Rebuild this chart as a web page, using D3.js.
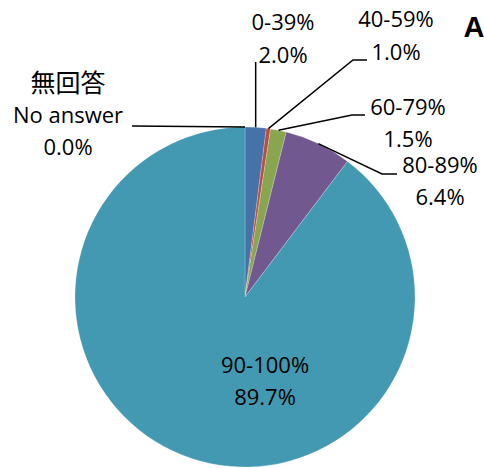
<!DOCTYPE html>
<html>
<head>
<meta charset="utf-8">
<script src="https://cdn.jsdelivr.net/npm/d3@7"></script>
<style>
  html, body { margin: 0; padding: 0; background: #fff; }
  svg { display: block; }
  text { font-family: "Open Sans", "Noto Sans", sans-serif; fill: #000; }
</style>
</head>
<body>
<svg id="chart" width="484" height="468"></svg>
<script>
// Data
const categories = ["No answer", "0-39%", "40-59%", "60-79%", "80-89%", "90-100%"];
const categoryJa = ["無回答", "", "", "", "", ""];
const values = [0.0, 2.0, 0.4, 1.5, 6.4, 89.7];          // slice sizes as drawn
const valueLabels = ["0.0%", "2.0%", "1.0%", "1.5%", "6.4%", "89.7%"]; // printed labels
const colors = ["#4198AF", "#4572A7", "#BE4B48", "#8AA54F", "#71588F", "#4299B1"];
const panelLetter = "A";

const svg = d3.select("#chart");
const cx = 245, cy = 297, R = 170;

const pie = d3.pie().sort(null).value(d => d)(values);
const arc = d3.arc().innerRadius(0).outerRadius(R);

const g = svg.append("g").attr("transform", `translate(${cx},${cy})`);
g.selectAll("path.slice")
  .data(pie)
  .join("path")
  .attr("class", "slice")
  .attr("d", arc)
  .attr("fill", (d, i) => colors[i])
  .attr("stroke", "#ffffff")
  .attr("stroke-opacity", 0.35)
  .attr("stroke-width", 0.6);

// label layout (offsets relative to the page)
const layout = [
  { elbow: [132, 126], end: [132, 126], tx: 68, lines: [[92, categoryJa[0]], [123, categories[0]], [155, valueLabels[0]]] },
  { elbow: null, endY: 62, tx: 283, lines: [[30, categories[1]], [63, valueLabels[1]]] },
  { elbow: [353, 60], end: [367, 60], tx: 396, lines: [[27, categories[2]], [60, valueLabels[2]]] },
  { elbow: [352, 115], end: [365, 115], tx: 408, lines: [[115, categories[3]], [147, valueLabels[3]]] },
  { elbow: [382, 174], end: [397, 174], tx: 440, lines: [[173, categories[4]], [205, valueLabels[4]]] },
  { inside: true, tx: 265, lines: [[373, categories[5]], [405, valueLabels[5]]] }
];

pie.forEach((d, i) => {
  const L = layout[i];
  const mid = (d.startAngle + d.endAngle) / 2;
  const sx = cx + R * Math.sin(mid), sy = cy - R * Math.cos(mid);
  if (!L.inside) {
    let pts;
    if (L.elbow === null) pts = [[sx, sy], [sx, L.endY]];
    else pts = [[sx, sy], L.elbow, L.end];
    svg.append("path")
      .attr("d", d3.line()(pts))
      .attr("fill", "none")
      .attr("stroke", "#000")
      .attr("stroke-width", 1.5);
  }
  L.lines.forEach(([y, t]) => {
    if (!t) return;
    const cjk = /[\u3000-\u9fff]/.test(t);
    svg.append("text")
      .attr("x", L.tx).attr("y", y)
      .attr("text-anchor", "middle")
      .attr("font-size", cjk ? 25 : 22)
      .style("font-family", cjk ? "'Noto Sans CJK JP', sans-serif" : null)
      .text(t);
  });
});

svg.append("text")
  .attr("x", 474).attr("y", 37)
  .attr("text-anchor", "middle")
  .attr("font-size", 29)
  .attr("font-weight", "bold")
  .style("font-family", "'Liberation Sans', Arial, sans-serif")
  .text(panelLetter);
</script>
</body>
</html>
